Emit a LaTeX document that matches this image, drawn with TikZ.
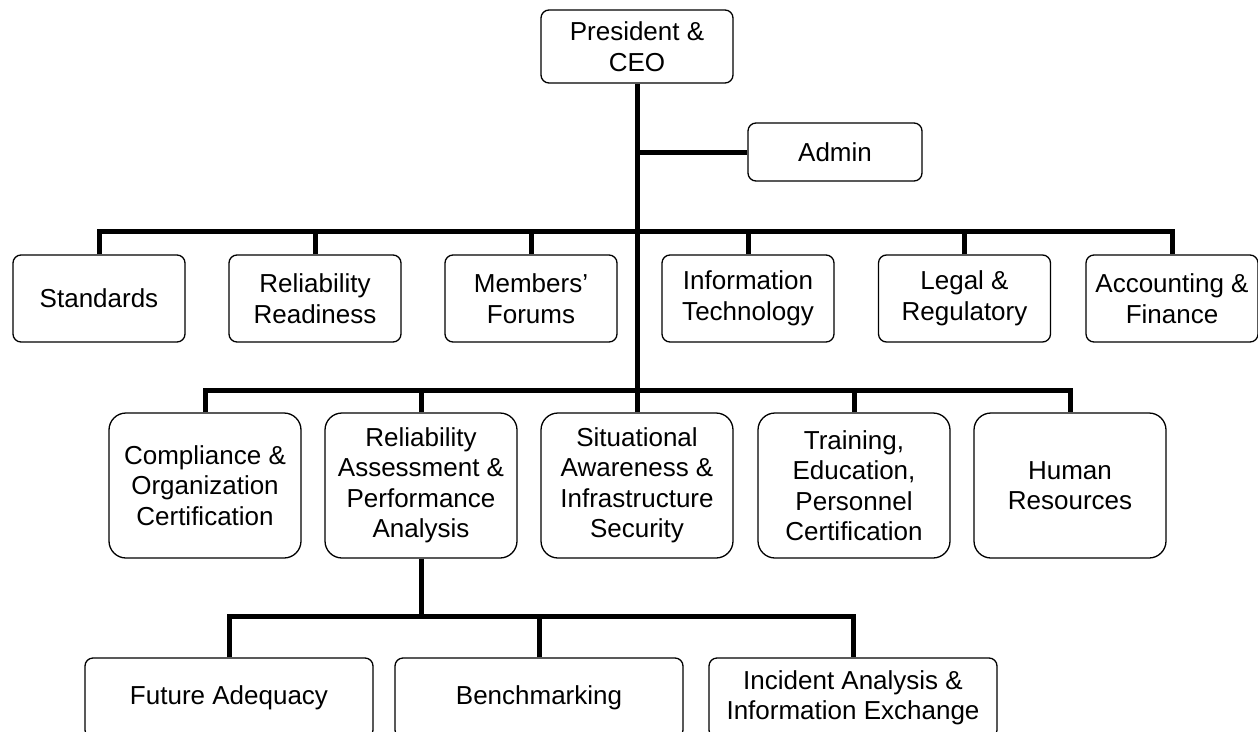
\documentclass[tikz,border=0pt]{standalone}
\usepackage{fontspec}
\setmainfont{Liberation Sans}
\usetikzlibrary{positioning}

\begin{document}
\begin{tikzpicture}[x=1pt,y=-1pt,font=\fontsize{26}{30.5}\selectfont,box/.style={draw,rounded corners=8pt,align=center,minimum width=172pt,minimum height=87pt,line width=1.3pt,inner sep=2pt},tall/.style={box,rounded corners=17pt,minimum width=192pt,minimum height=145pt},wide/.style={box,minimum width=288pt,minimum height=80pt},link/.style={line width=5pt,line join=miter}]
\useasboundingbox (0,0) rectangle (1258,731);
\clip (0,0) rectangle (1258,731);
% top of the chart
\node[box,minimum width=192pt,minimum height=73pt] (ceo) at (637,46.5) {President \&\\CEO};
\node[box,minimum width=174pt,minimum height=58pt] (adm) at (835,152) {Admin};
% first row of departments
\node[box] (std) at (99,298.5) {Standards};
\node[box] (rr) at (315,298.5) {Reliability\\Readiness};
\node[box] (mf) at (531,298.5) {Members’\\Forums};
\node[box] (it) at (748,298.5) {Information\\Technology};
\node[box] (lr) at (964.5,298.5) {Legal \&\\Regulatory};
\node[box] (acc) at (1172,298.5) {Accounting \&\\Finance};
% second row
\node[tall] (coc) at (205,485.5) {Compliance \&\\Organization\\Certification};
\node[tall] (rapa) at (421,485.5) {Reliability\\Assessment \&\\Performance\\Analysis};
\node[tall] (sais) at (637,485.5) {Situational\\Awareness \&\\Infrastructure\\Security};
\node[tall] (tep) at (854,485.5) {Training,\\Education,\\Personnel\\Certification};
\node[tall] (hr) at (1070,485.5) {Human\\Resources};
% third row under RAPA
\node[wide] (fa) at (229,698) {Future Adequacy};
\node[wide] (bm) at (539,698) {Benchmarking};
\node[wide] (iaie) at (853,698) {Incident Analysis \&\\Information Exchange};
% bus lines
\coordinate (bus1) at (637,231);
\coordinate (bus2) at (637,390);
\coordinate (bus3) at (421,616);
\draw[link] (ceo.south) -- (ceo.south |- bus2);
\draw[link] (ceo.south |- adm.west) -- (adm.west);
\draw[link] (std.north) |- (acc.north |- bus1) -- (acc.north);
\foreach \n in {rr,mf,it,lr} \draw[link] (\n.north) -- (\n.north |- bus1);
\draw[link] (coc.north) |- (hr.north |- bus2) -- (hr.north);
\foreach \n in {rapa,sais,tep} \draw[link] (\n.north) -- (\n.north |- bus2);
\draw[link] (rapa.south) -- (bus3);
\draw[link] (fa.north) |- (iaie.north |- bus3) -- (iaie.north);
\draw[link] (bm.north) -- (bm.north |- bus3);
\end{tikzpicture}
\end{document}
